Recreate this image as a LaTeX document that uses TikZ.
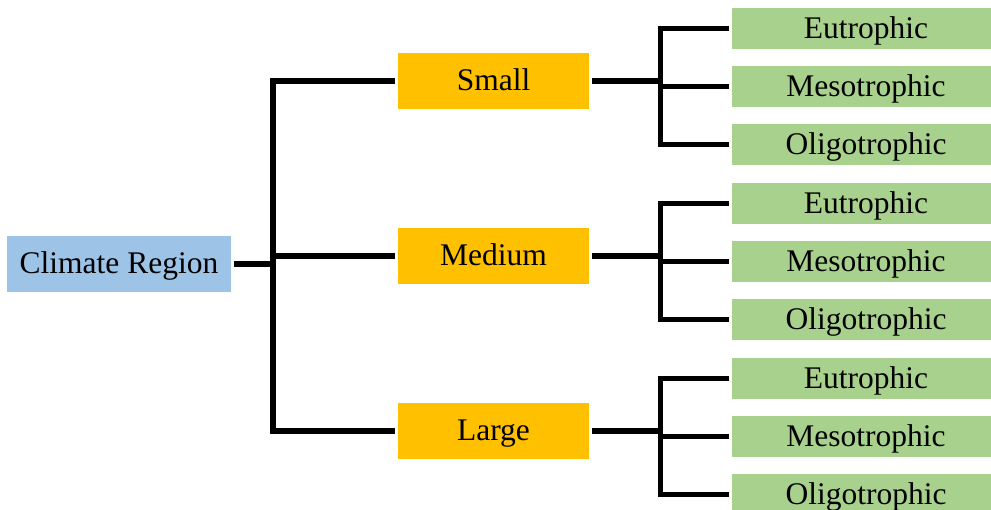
\documentclass[tikz,border=0pt]{standalone}
\usepackage{fontspec}
\setmainfont{Liberation Serif}
\definecolor{rootblue}{RGB}{157,195,230}
\definecolor{sizegold}{RGB}{255,192,0}
\definecolor{leafgreen}{RGB}{169,209,142}
\begin{document}
\begin{tikzpicture}[x=1pt,y=-1pt,
  box/.style={rectangle, inner sep=0pt, outer sep=3pt,
    text height=20pt, text depth=0pt,
    font=\fontsize{31.5}{36}\selectfont},
  rootbox/.style={box, fill=rootblue, minimum width=224pt, minimum height=56pt},
  sizebox/.style={box, fill=sizegold, minimum width=191pt, minimum height=56pt},
  leafbox/.style={box, fill=leafgreen, minimum width=268pt, minimum height=41pt},
  link/.style={line width=5.5pt, line join=miter, line cap=butt}]
\useasboundingbox (0,0) rectangle (991,510);
\clip (0,0) rectangle (991,510);

% root and lake-size classes
\node[rootbox] (climate) at (119,264) {Climate Region};
\node[sizebox] (small)  at (493.5,81)  {Small};
\node[sizebox] (medium) at (493.5,256) {Medium};
\node[sizebox] (large)  at (493.5,431) {Large};

% trophic states for each size class
\foreach \g/\off in {S/0, M/175, L/350} {
  \node[leafbox] (e\g) at (866,28.5+\off)  {Eutrophic};
  \node[leafbox] (m\g) at (866,86.5+\off)  {Mesotrophic};
  \node[leafbox] (o\g) at (866,144.5+\off) {Oligotrophic};
}

% x positions of the vertical bars
\coordinate (trunk) at (273,0);
\coordinate (fork)  at (660.5,0);

% root to size classes
\draw[link] (climate.east) -- (climate.east -| trunk);
\draw[link] (small.west) -- (small.west -| trunk) -- (large.west -| trunk) -- (large.west);
\draw[link] (medium.west) -- (medium.west -| trunk);

% size classes to trophic states
\foreach \p/\g in {small/S, medium/M, large/L} {
  \draw[link] (\p.east) -- (\p.east -| fork);
  \draw[link] (e\g.west) -- (e\g.west -| fork) -- (o\g.west -| fork) -- (o\g.west);
  \draw[link] (m\g.west) -- (m\g.west -| fork);
}
\end{tikzpicture}
\end{document}
